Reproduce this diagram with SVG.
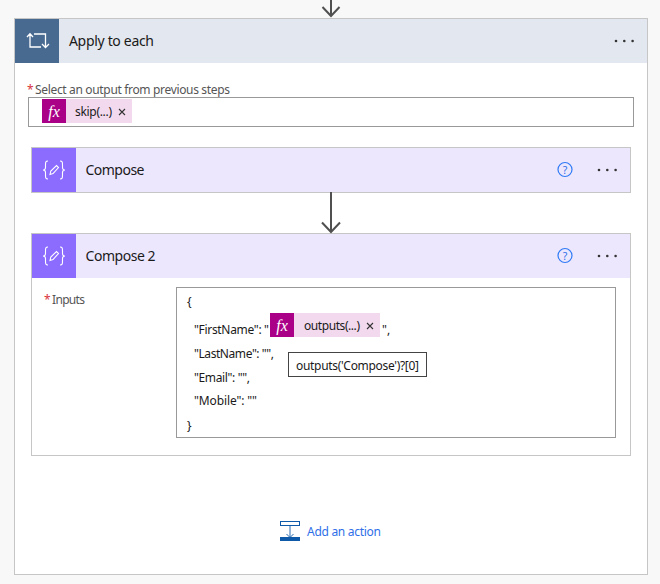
<svg xmlns="http://www.w3.org/2000/svg" width="660" height="584" viewBox="0 0 660 584">
<defs>
<style>
text{font-family:"Noto Sans","Open Sans","Liberation Sans",sans-serif;fill:#1a1a1a}
.title{font-size:14px}
.body{font-size:12px}
.lab{font-size:12px;fill:#555}
.star{font-size:12px;fill:#d8343c}
.fx{font-family:"Liberation Serif",serif;font-style:italic;font-size:16px;fill:#fff}
.conn{fill:none;stroke:#505050;stroke-width:2}
.ic{fill:none;stroke:#fff;stroke-width:1.100}
.dot{fill:#333}
</style>
<g id="dots"><circle cx="0" cy="0" r="1.300" class="dot"/><circle cx="8.300" cy="0" r="1.300" class="dot"/><circle cx="16.600" cy="0" r="1.300" class="dot"/></g>
<g id="composeIcon">
<path class="ic" d="M-6-9C-8.500-9-8.500-7.500-8.500-5V-2.500C-8.500-1-9.500 0-11 0C-9.500 0-8.500 1-8.500 2.500V5C-8.500 7.500-8.500 9-6 9"/>
<path class="ic" d="M6-9C8.500-9 8.500-7.500 8.500-5V-2.500C8.500-1 9.500 0 11 0C9.500 0 8.500 1 8.500 2.500V5C8.500 7.500 8.500 9 6 9"/>
<path class="ic" d="M-4 4.500L-3.200 1L2.500-4.500L4.500-2.500L-1 3.500Z" fill="#fff" fill-opacity="0.500"/>
</g>
<g id="help"><circle cx="0" cy="0" r="7" fill="none" stroke="#2f7bf5" stroke-width="1.200"/><text x="0" y="4" text-anchor="middle" style="font-size:10.500px;fill:#2f6fe8">?</text></g>
</defs>
<rect width="660" height="584" fill="#f8f8f8"/>
<g id="apply-to-each">
<rect x="14.500" y="18.500" width="633" height="556" fill="#fff" stroke="#c6c6c6"/>
<rect x="15" y="19" width="632" height="44" fill="#e3e7ef"/>
<rect x="15" y="19" width="44" height="44" fill="#486a91"/>
<path d="M27 37L30 33.800L33 37M30 34V47H41M34 34H45.500V47M42 44L45.500 47.500L49 44" fill="none" stroke="#fff" stroke-width="1.300"/>
<text x="69" y="46" class="title" textLength="85">Apply to each</text>
<use href="#dots" x="616" y="41"/>
<text x="27" y="94" class="star">*</text>
<text x="35" y="94" class="lab" textLength="195">Select an output from previous steps</text>
<rect x="28.500" y="97.500" width="605" height="29" fill="#fff" stroke="#999"/>
<rect x="42" y="99" width="24" height="24" fill="#aa0088"/>
<rect x="66" y="99" width="66" height="24" fill="#f2d9ee"/>
<text x="54" y="117" text-anchor="middle" class="fx">fx</text>
<text x="75" y="116" class="body" textLength="37">skip(...)</text>
<path d="M119 109L125 115M125 109L119 115" stroke="#333" stroke-width="1.100"/>
</g>
<g id="compose">
<rect x="31.500" y="147.500" width="599" height="45" fill="#ede7fe" stroke="#c6c6c6"/>
<rect x="32" y="148" width="44" height="44" fill="#8c6cff"/>
<use href="#composeIcon" x="54" y="170"/>
<text x="85.500" y="175" class="title" textLength="59">Compose</text>
<use href="#help" x="565" y="169.500"/>
<use href="#dots" x="599" y="170"/>
</g>
<g id="compose-2">
<rect x="31.500" y="233.500" width="599" height="222" fill="#fff" stroke="#c6c6c6"/>
<rect x="32" y="234" width="598" height="44" fill="#ede7fe"/>
<rect x="32" y="234" width="44" height="44" fill="#8c6cff"/>
<use href="#composeIcon" x="54" y="256"/>
<text x="85.500" y="261" class="title" textLength="70">Compose 2</text>
<use href="#help" x="565" y="255.500"/>
<use href="#dots" x="599" y="256"/>
<text x="44" y="304" class="star">*</text>
<text x="52" y="304" class="lab" textLength="33">Inputs</text>
<rect x="176.500" y="287.500" width="439" height="150" fill="#fff" stroke="#999"/>
<text x="187" y="306" class="body">{</text>
<text x="194" y="334" class="body" textLength="75">"FirstName": "</text>
<rect x="270" y="313" width="24" height="24" fill="#aa0088"/>
<rect x="294" y="313" width="86" height="24" fill="#f2d9ee"/>
<text x="282" y="331" text-anchor="middle" class="fx">fx</text>
<text x="304" y="330" class="body" textLength="56">outputs(...)</text>
<path d="M367 323L373 329M373 323L367 329" stroke="#333" stroke-width="1.100"/>
<text x="382" y="334" class="body">",</text>
<text x="194" y="358" class="body" textLength="80">"LastName": "",</text>
<text x="194" y="382" class="body" textLength="56">"Email": "",</text>
<text x="194" y="405" class="body" textLength="63">"Mobile": ""</text>
<text x="187" y="430" class="body">}</text>
<rect x="288.500" y="352.500" width="138" height="24" fill="#fff" stroke="#444"/>
<text x="296" y="370" class="body" textLength="123">outputs('Compose')?[0]</text>
</g>
<g id="add-action">
<rect x="280.500" y="521.500" width="19" height="4" fill="#fff" stroke="#0f5aa8" stroke-width="1"/>
<path d="M290 526V537M286.500 534L290 537.500L293.500 534" fill="none" stroke="#2b6cb0" stroke-width="1"/>
<rect x="280" y="537" width="20" height="4" fill="#0f5aa8"/>
<text x="307" y="536" class="body" style="fill:#2f6fe8" textLength="74">Add an action</text>
</g>
<g id="connectors">
<path class="conn" d="M331 0V16M322.500 7L331 16L339.500 7"/>
<path class="conn" d="M331 192V232M322 222.500L331 232L340 222.500"/>
</g>
</svg>
